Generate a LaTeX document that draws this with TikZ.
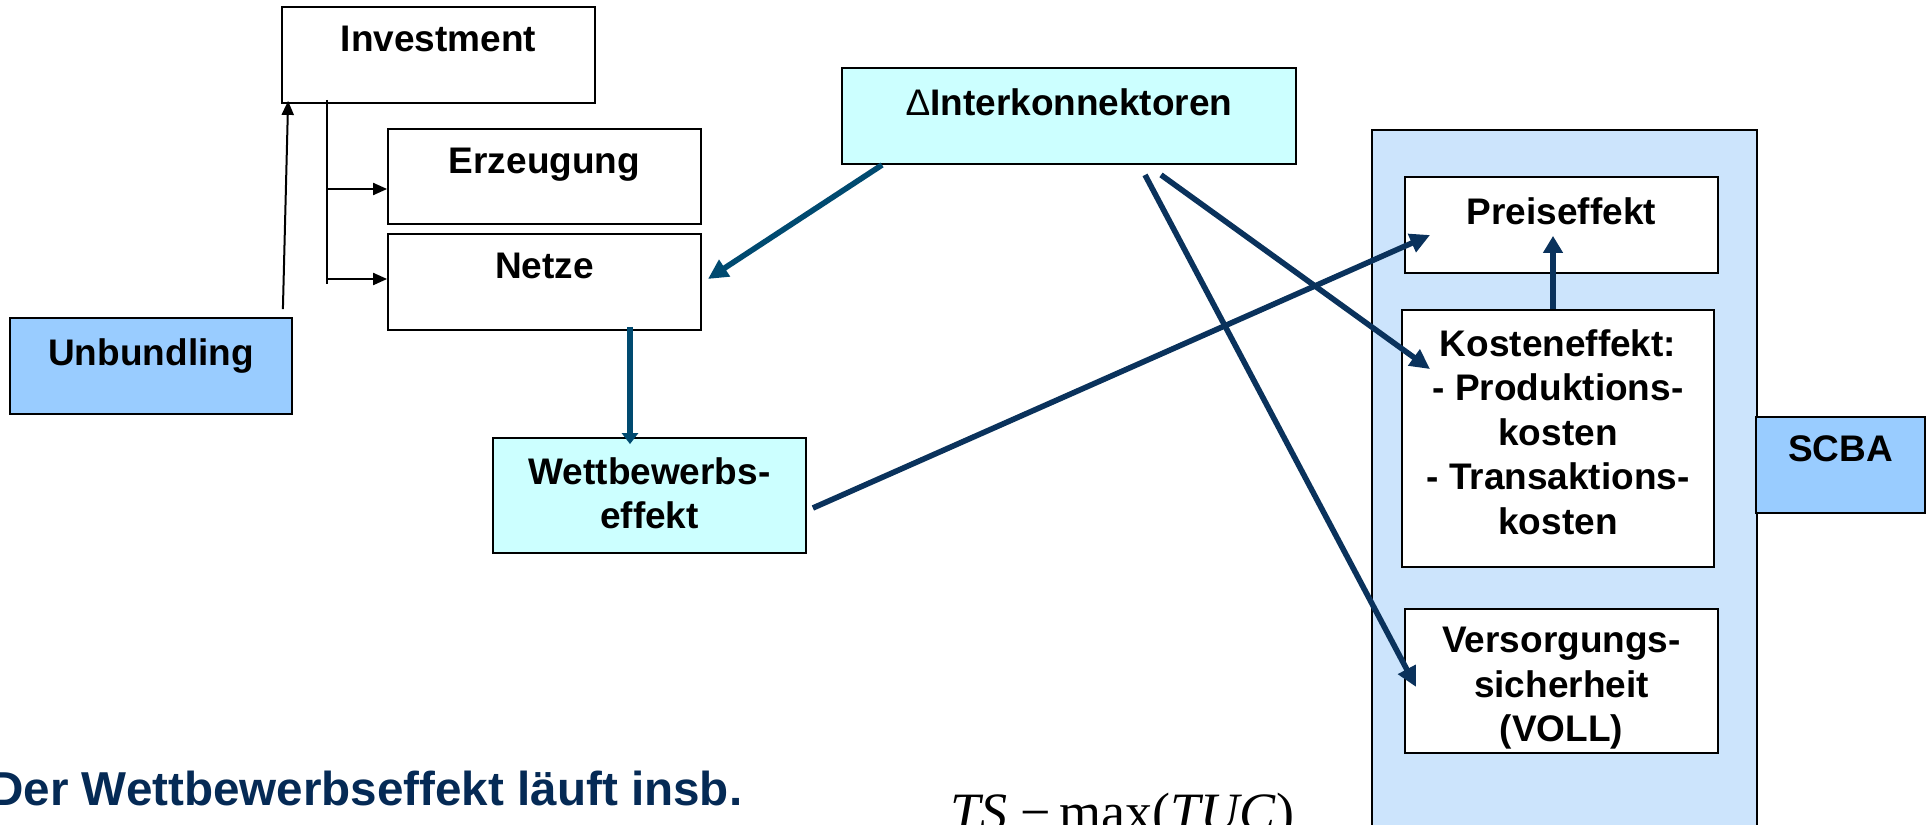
\documentclass[tikz,border=0pt]{standalone}
\usepackage{fontspec}
\setmainfont{Liberation Sans}
\newfontfamily\formulafont{Liberation Serif}
\usetikzlibrary{arrows.meta,calc}
\definecolor{navy}{RGB}{10,50,92}
\definecolor{linkblue}{RGB}{0,74,112}
\definecolor{cyanfill}{RGB}{204,255,255}
\definecolor{bluefill}{RGB}{153,204,255}
\definecolor{panelfill}{RGB}{204,228,252}
\definecolor{textnavy}{RGB}{5,42,85}
\begin{document}
\begin{tikzpicture}[x=0.5pt,y=-0.5pt,
  bx/.style 2 args={draw=black, line width=0.9pt, rectangle, inner sep=0pt,
    minimum width=#1*0.5pt, minimum height=#2*0.5pt},
  lbl/.style={anchor=north, inner sep=0pt, align=center,
    font=\fontsize{18.5}{22.25}\selectfont\bfseries},
  thinline/.style={draw=black, line width=1pt},
  thinarrow/.style={thinline, -{Triangle[length=7pt,width=6pt]}},
  navyarrow/.style={draw=navy, line width=2.8pt, -{Triangle[length=10pt,width=9.5pt]}},
  linkarrow/.style={draw=linkblue, line width=2.8pt, -{Triangle[length=10pt,width=9.5pt]}}
]
\path[use as bounding box] (0,0) rectangle (1930,824);
\clip (0,0) rectangle (1930,824);

% left part: investment chain
\node[bx={313}{96}] (inv) at (438.5,55) {};
\node[lbl] (invT) at ($(inv.north)+(0,20)$) {Investment};
\node[bx={313}{95}] (erz) at (544.5,176.5) {};
\node[lbl] (erzT) at ($(erz.north)+(0,20)$) {Erzeugung};
\node[bx={313}{96}] (netze) at (544.5,282) {};
\node[lbl] (netzeT) at ($(netze.north)+(0,20)$) {Netze};
\node[bx={282}{96}, fill=bluefill] (unb) at (151,366) {};
\node[lbl] (unbT) at ($(unb.north)+(0,21)$) {Unbundling};
\node[bx={313}{115}, fill=cyanfill] (wett) at (649.5,495.5) {};
\node[lbl] (wettT) at ($(wett.north)+(0,20)$) {Wettbewerbs-\\effekt};
\node[bx={454}{96}, fill=cyanfill] (ik) at (1069,116) {};
\node[lbl] (ikT) at ($(ik.north)+(0,21)$) {{\mdseries Δ}Interkonnektoren};

% right part: SCBA panel
\node[bx={385}{800}, fill=panelfill, anchor=north west] (panel) at (1371,129) {};
\node[bx={313}{96}, fill=white] (preis) at (1561.5,225) {};
\node[lbl] (preisT) at ($(preis.north)+(0,21)$) {Preiseffekt};
\node[bx={312}{257}, fill=white] (kosten) at (1558,438.5) {};
\node[lbl] (kostenT) at ($(kosten.north)+(0,20)$) {Kosteneffekt:\\- Produktions-\\kosten\\- Transaktions-\\kosten};
\node[bx={313}{144}, fill=white] (vers) at (1561.5,681) {};
\node[lbl] (versT) at ($(vers.north)+(0,19)$) {Versorgungs-\\sicherheit\\(VOLL)};
\node[bx={169}{96}, fill=bluefill] (scba) at (1840.5,465) {};
\node[lbl] (scbaT) at ($(scba.north)+(0,19)$) {SCBA};

% text below
\node[anchor=base west, inner sep=0pt, text=textnavy,
  font=\fontsize{23.8}{28}\selectfont\bfseries] (note) at (-11,805)
  {Der Wettbewerbseffekt läuft insb.};
\node[anchor=base west, inner sep=0pt,
  font=\formulafont\fontsize{27}{30}\selectfont] (ts) at (950,830)
  {\textit{TS}\hspace{0.24em}−\hspace{0.16em}max(\textit{TUC})};

% investment tree
\coordinate (tTop) at ($(inv.south west)+(46,-4)$);
\coordinate (tBot) at ($(inv.south west)+(46,180)$);
\coordinate (tE) at ($(erz.west)+(-60,12.5)$);
\coordinate (tN) at ($(netze.west)+(-60,-3)$);
\draw[thinline] (tTop) -- (tBot);
\draw[thinarrow] (tE) -- ($(erz.west)+(0,12.5)$);
\draw[thinarrow] (tN) -- ($(netze.west)+(0,-3)$);
\draw[thinarrow] ($(unb.north east)+(-10,-8)$) -- ($(inv.south west)+(7,-3)$);

% effect arrows
\draw[linkarrow] ($(ik.south west)+(41,0)$) -- ($(netze.east)+(6,-3)$);
\draw[draw=linkblue, line width=2.8pt, -{Triangle[length=5.5pt,width=8pt]}]
  ($(netze.south)+(85.5,-4)$) -- ($(wett.north)+(-19.5,7)$);
\draw[navyarrow] ($(wett.east)+(6,12.5)$) -- ($(preis.west)+(26,10)$);
\draw[navyarrow] ($(ik.south)+(92,10)$) -- ($(kosten.north west)+(29,60)$);
\draw[navyarrow] ($(ik.south)+(76,10)$) -- ($(vers.west)+(12,6)$);
\draw[draw=navy, line width=2.8pt, -{Triangle[length=8.5pt,width=9.5pt]}]
  ($(kosten.north)+(-5,0)$) -- ($(preis.south)+(-8.5,-38)$);
\end{tikzpicture}
\end{document}
